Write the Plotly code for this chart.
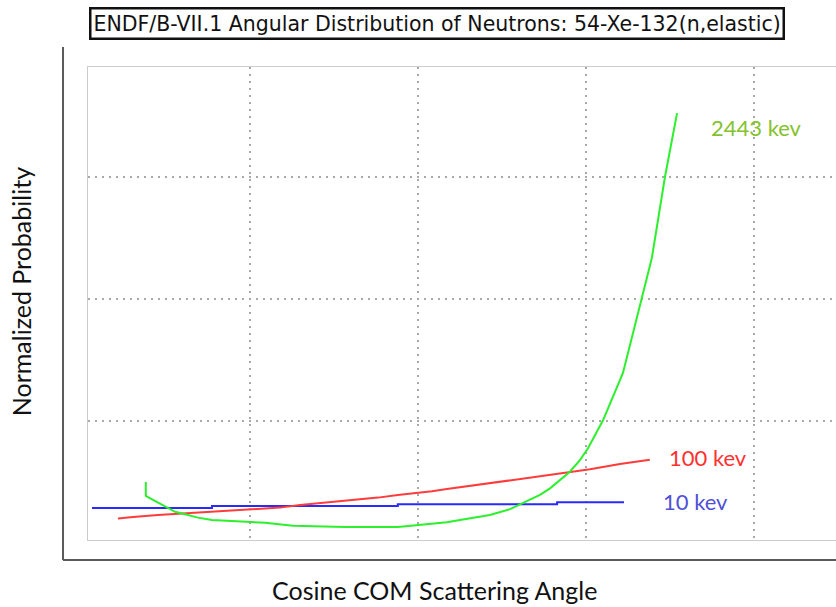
import plotly.graph_objects as go

# Angular distributions of elastically scattered neutrons, Xe-132
cos_10kev = [-0.970, -0.613, -0.060, 0.414, 0.613]
prob_10kev = [0.143, 0.152, 0.159, 0.167, 0.167]

cos_100kev = [-0.893, -0.848, -0.774, -0.693, -0.613, -0.530, -0.455, -0.411,
              -0.351, -0.298, -0.238, -0.173, -0.119, -0.060, -0.003, 0.042,
              0.086, 0.134, 0.185, 0.244, 0.333, 0.452, 0.512, 0.601, 0.690]
prob_100kev = [0.100, 0.107, 0.115, 0.122, 0.128, 0.136, 0.141, 0.145,
               0.156, 0.163, 0.169, 0.177, 0.186, 0.197, 0.204, 0.212,
               0.221, 0.230, 0.240, 0.251, 0.266, 0.290, 0.302, 0.324, 0.341]

cos_2443kev = [-0.810, -0.810, -0.783, -0.753, -0.723, -0.693, -0.655, -0.613,
               -0.536, -0.455, -0.372, -0.217, -0.060, 0.015, 0.086, 0.125,
               0.155, 0.214, 0.274, 0.304, 0.333, 0.363, 0.393, 0.423, 0.452,
               0.482, 0.506, 0.551, 0.610, 0.637, 0.667, 0.696, 0.735, 0.771]
prob_2443kev = [0.250, 0.193, 0.173, 0.149, 0.128, 0.118, 0.104, 0.094,
                0.089, 0.083, 0.071, 0.066, 0.066, 0.075, 0.085, 0.094,
                0.101, 0.115, 0.139, 0.159, 0.176, 0.197, 0.224, 0.258, 0.292,
                0.340, 0.388, 0.504, 0.697, 0.844, 1.004, 1.168, 1.500, 1.762]

series_names = ["10 kev", "100 kev", "2443 kev"]
line_colors = ["#2a2aff", "#ff3b3b", "#2cf02c"]
label_colors = ["#5050d8", "#ff3030", "#84c22c"]
label_pos = [(0.723, 0.172), (0.741, 0.352), (0.866, 1.705)]

fig = go.Figure()
fig.add_trace(go.Scatter(x=cos_10kev, y=prob_10kev, mode="lines", line_shape="hv",
                         line=dict(color=line_colors[0], width=2), name=series_names[0]))
fig.add_trace(go.Scatter(x=cos_100kev, y=prob_100kev, mode="lines",
                         line=dict(color=line_colors[1], width=2), name=series_names[1]))
fig.add_trace(go.Scatter(x=cos_2443kev, y=prob_2443kev, mode="lines",
                         line=dict(color=line_colors[2], width=2), name=series_names[2]))

annotations = []
for name, col, (lx, ly) in zip(series_names, label_colors, label_pos):
    annotations.append(dict(x=lx, y=ly, xref="x", yref="y", text=name, showarrow=False,
                            xanchor="left", yanchor="middle",
                            font=dict(family="Lato", size=22, color=col)))

# boxed chart title
annotations.append(dict(x=0.4666, y=1.093, xref="paper", yref="paper",
                        text="ENDF/B-VII.1 Angular Distribution of Neutrons: 54-Xe-132(n,elastic)",
                        showarrow=False, xanchor="center", yanchor="middle",
                        font=dict(family="DejaVu Sans", size=20.5, color="#111111"),
                        bordercolor="#111111", borderwidth=2.5, borderpad=2, bgcolor="white"))
# axis titles
annotations.append(dict(x=0.4626, y=-0.1057, xref="paper", yref="paper",
                        text="Cosine COM Scattering Angle", showarrow=False,
                        xanchor="center", yanchor="middle",
                        font=dict(family="Lato", size=25, color="#111111")))
annotations.append(dict(x=-0.0895, y=0.524, xref="paper", yref="paper",
                        text="Normalized Probability", showarrow=False, textangle=-90,
                        xanchor="center", yanchor="middle",
                        font=dict(family="Lato", size=25, color="#111111")))

# outer axis frame (left and bottom)
shapes = [
    dict(type="line", xref="paper", yref="paper", x0=-0.0334, x1=-0.0334, y0=-0.0423, y1=1.0423,
         line=dict(color="#5a5a5a", width=2)),
    dict(type="line", xref="paper", yref="paper", x0=-0.0334, x1=1.0, y0=-0.0423, y1=-0.0423,
         line=dict(color="#5a5a5a", width=2)),
]

fig.update_layout(
    width=836, height=607,
    margin=dict(l=88, r=0, t=67, b=67),
    paper_bgcolor="white", plot_bgcolor="white",
    showlegend=False,
    annotations=annotations,
    shapes=shapes,
    xaxis=dict(range=[-0.982, 1.244], tick0=0, dtick=0.5, showticklabels=False, ticks="",
               showgrid=True, gridcolor="#a8a8a8", gridwidth=1.5, griddash="2px,5px",
               zeroline=False, showline=True, mirror=True, linecolor="#cccccc", linewidth=1),
    yaxis=dict(range=[0.0123, 1.951], tick0=0, dtick=0.5, showticklabels=False, ticks="",
               showgrid=True, gridcolor="#a8a8a8", gridwidth=1.5, griddash="2px,5px",
               zeroline=False, showline=True, linecolor="#cccccc", linewidth=1),
)

fig.write_html("out.html")
